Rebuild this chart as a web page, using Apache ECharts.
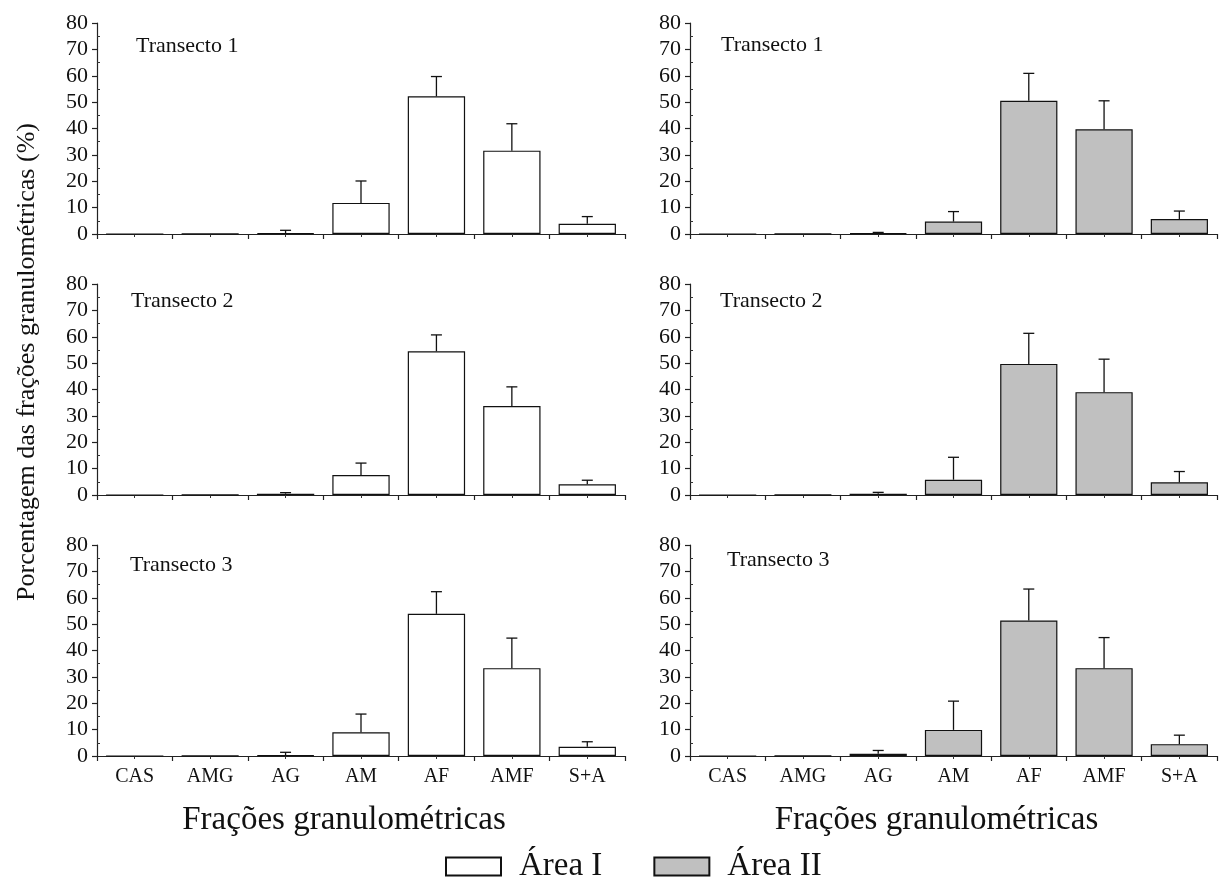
<!DOCTYPE html>
<html>
<head>
<meta charset="utf-8">
<script src="https://cdn.jsdelivr.net/npm/echarts@6/dist/echarts.min.js"></script>
<style>
html,body{margin:0;padding:0;background:#fff;}
#chart{width:1228px;height:882px;}
</style>
</head>
<body>
<div id="chart"></div>
<script>
// ---- data ----
const categories = ['CAS', 'AMG', 'AG', 'AM', 'AF', 'AMF', 'S+A'];
const panelTitles = ['Transecto 1', 'Transecto 2', 'Transecto 3'];
const seriesNames = ['Área I', 'Área II'];

// Área I (left column) means and standard deviations
const areaI_T1 = [0, 0.1, 0.3, 11.8, 52.2, 31.6, 3.9];
const areaI_T1_sd = [0, 0, 1.1, 8.3, 7.5, 10.2, 2.7];
const areaI_T2 = [0, 0.1, 0.5, 7.6, 54.5, 33.7, 4.1];
const areaI_T2_sd = [0, 0, 0.4, 4.5, 6.2, 7.3, 1.5];
const areaI_T3 = [0, 0.1, 0.25, 9.0, 53.9, 33.3, 3.5];
const areaI_T3_sd = [0, 0, 1.15, 6.9, 8.4, 11.4, 1.9];

// Área II (right column)
const areaII_T1 = [0, 0.1, 0.3, 4.7, 50.5, 39.7, 5.7];
const areaII_T1_sd = [0, 0, 0.3, 3.8, 10.4, 10.8, 3.0];
const areaII_T2 = [0, 0.1, 0.5, 5.8, 49.7, 39.0, 4.8];
const areaII_T2_sd = [0, 0, 0.5, 8.5, 11.6, 12.5, 4.1];
const areaII_T3 = [0, 0.1, 0.9, 9.9, 51.4, 33.3, 4.5];
const areaII_T3_sd = [0, 0, 1.2, 10.9, 11.9, 11.6, 3.4];

const yMin = 0, yMax = 80, yInterval = 10;
const xTitle = 'Frações granulométricas';
const yTitle = 'Porcentagem das frações granulométricas (%)';

// ---- layout / styles ----
const FONT = '"Liberation Serif", "DejaVu Serif", serif';
const TEXT = '#111';
const rowTops = [23, 284, 545];
const rowH = 211;
const colLeft = [97, 690];
const colW = [528, 527];
const fills = ['#ffffff', '#c0c0c0'];

const panels = [
  { col: 0, row: 0, mean: areaI_T1, sd: areaI_T1_sd },
  { col: 0, row: 1, mean: areaI_T2, sd: areaI_T2_sd },
  { col: 0, row: 2, mean: areaI_T3, sd: areaI_T3_sd },
  { col: 1, row: 0, mean: areaII_T1, sd: areaII_T1_sd },
  { col: 1, row: 1, mean: areaII_T2, sd: areaII_T2_sd },
  { col: 1, row: 2, mean: areaII_T3, sd: areaII_T3_sd }
];
const titlePos = [[136, 47], [131, 302], [130, 566], [721, 46], [720, 302], [727, 561]];

const grid = [], xAxis = [], yAxis = [], series = [], title = [];
panels.forEach((p, i) => {
  grid.push({ left: colLeft[p.col], top: rowTops[p.row], width: colW[p.col], height: rowH, outerBoundsMode: 'none', containLabel: false });
  const isBottom = p.row === 2;
  xAxis.push({
    type: 'category', gridIndex: i, data: categories, position: 'bottom',
    boundaryGap: true,
    axisLine: { show: true, lineStyle: { color: '#222', width: 1.2 } },
    axisTick: { show: true, length: 5, alignWithLabel: false, lineStyle: { color: '#222', width: 1.2 } },
    axisLabel: { show: isBottom, interval: 0, margin: 11, fontFamily: FONT, fontSize: 20, color: TEXT },
    splitLine: { show: false },
    name: isBottom ? xTitle : '', nameLocation: 'middle', nameGap: 48,
    nameTextStyle: { fontFamily: FONT, fontSize: 33, color: TEXT, padding: [0, 34, 0, 0] }
  });
  yAxis.push({
    type: 'value', gridIndex: i, min: yMin, max: yMax, interval: yInterval, position: 'left',
    axisLine: { show: true, lineStyle: { color: '#222', width: 1.2 } },
    axisTick: { show: true, length: 5, lineStyle: { color: '#222', width: 1.2 } },
    axisLabel: { margin: 9, fontFamily: FONT, fontSize: 22, color: TEXT },
    splitLine: { show: false }
  });
  title.push({
    text: panelTitles[p.row], left: titlePos[i][0], top: titlePos[i][1] - 12, padding: 0,
    textStyle: { fontFamily: FONT, fontSize: 22, fontWeight: 'normal', color: TEXT }
  });
});
// overlay axes: category-centre ticks, and inner minor ticks (right-positioned axis shifted onto the left edge)
panels.forEach((p, i) => {
  xAxis.push({
    type: 'category', gridIndex: i, data: categories, position: 'bottom',
    axisLine: { show: false },
    axisTick: { show: true, length: 3, alignWithLabel: true, lineStyle: { color: '#333', width: 1 } },
    axisLabel: { show: false }, splitLine: { show: false }
  });
  yAxis.push({
    type: 'value', gridIndex: i, min: yMin, max: yMax, interval: yInterval, position: 'right',
    offset: -colW[p.col],
    axisLine: { show: false },
    axisTick: { show: false },
    minorTick: { show: true, splitNumber: 2, length: 3, lineStyle: { color: '#333', width: 1 } },
    axisLabel: { show: false }, splitLine: { show: false }, minorSplitLine: { show: false }
  });
});

panels.forEach((p, i) => {
  series.push({
    type: 'bar', name: seriesNames[p.col], xAxisIndex: i, yAxisIndex: i,
    data: p.mean, barWidth: '76%',
    itemStyle: { color: fills[p.col], borderColor: '#111', borderWidth: 1.2 },
    emphasis: { disabled: true }, z: 2
  });
  series.push({
    type: 'custom', name: 'err' + i, xAxisIndex: i, yAxisIndex: i,
    data: p.mean.map((m, k) => [k, m, m + p.sd[k], p.sd[k]]),
    renderItem: function (params, api) {
      const sd = api.value(3);
      if (!sd) return null;
      const base = api.coord([api.value(0), api.value(1)]);
      const top = api.coord([api.value(0), api.value(2)]);
      const hw = 5.5;
      const st = { stroke: '#111', lineWidth: 1.3 };
      return {
        type: 'group',
        children: [
          { type: 'line', shape: { x1: base[0], y1: base[1], x2: top[0], y2: top[1] }, style: st },
          { type: 'line', shape: { x1: top[0] - hw, y1: top[1], x2: top[0] + hw, y2: top[1] }, style: st }
        ]
      };
    },
    z: 3, silent: true
  });
});

const option = {
  animation: false,
  backgroundColor: '#ffffff',
  title: title,
  grid: grid,
  xAxis: xAxis,
  yAxis: yAxis,
  series: series,
  legend: {
    data: seriesNames, left: 445, top: 850, padding: 0,
    itemWidth: 55, itemHeight: 18, itemGap: 51, selectedMode: false,
    icon: 'rect',
    textStyle: { fontFamily: FONT, fontSize: 33, color: TEXT, padding: [0, 0, 0, 13] }
  },
  graphic: [{
    type: 'text', x: 27, y: 362, rotation: Math.PI / 2,
    style: { text: yTitle, font: '26px ' + FONT, fill: TEXT, align: 'center', verticalAlign: 'middle' }
  }]
};

const chart = echarts.init(document.getElementById('chart'), null, { renderer: 'canvas' });
chart.setOption(option);
</script>
</body>
</html>
